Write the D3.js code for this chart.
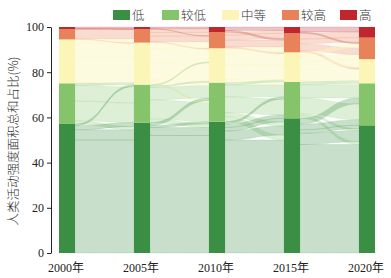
<!DOCTYPE html>
<html>
<head>
<meta charset="utf-8">
<script src="https://cdn.jsdelivr.net/npm/d3@7"></script>
<style>
  body { margin: 0; background: #fff; }
  svg { display: block; }
  .tick text { font-family: "Liberation Serif", serif; }
</style>
</head>
<body>
<svg id="chart" width="391" height="278"></svg>
<script>
// categories & years
const categories = ['低', '较低', '中等', '较高', '高'];
const colors = ['#3b8f45', '#86c46c', '#fbf6b8', '#e8825b', '#c0272d'];
const years = ['2000年', '2005年', '2010年', '2015年', '2020年'];
const yTicks = [0, 20, 40, 60, 80, 100];

// share of each category (%) per year, bottom to top
const v2000 = [57.1, 18.0, 19.4, 4.6, 0.9];
const v2005 = [57.7, 16.8, 18.6, 6.0, 0.9];
const v2010 = [58.1, 17.3, 15.2, 7.1, 2.3];
const v2015 = [59.6, 16.1, 13.1, 8.4, 2.8];
const v2020 = [56.5, 18.6, 10.7, 9.5, 4.7];
const shares = [v2000, v2005, v2010, v2015, v2020];

// transitions [from, to, value], listed in stacking order (bottom -> top)
const f2000_2005 = [[0,0,50.0],[0,0,4.5],[1,0,1.4],[0,0,1.8],[1,1,8.7],[1,1,7.0],[2,1,0.3],[0,1,0.8],[1,2,0.9],[2,2,11.1],[2,2,6.3],[3,2,0.3],[2,3,1.7],[3,3,4.1],[4,3,0.2],[3,4,0.2],[4,4,0.7]];
const f2005_2010 = [[0,0,52.0],[0,0,3.5],[1,0,1.6],[0,0,1.0],[1,1,8.5],[2,1,0.8],[0,1,1.2],[1,1,5.5],[2,1,1.3],[1,2,0.7],[2,2,8.0],[1,2,0.5],[2,2,5.6],[3,2,0.4],[2,3,2.9],[3,3,2.5],[4,3,0.1],[3,3,1.6],[3,4,1.5],[4,4,0.8]];
const f2010_2015 = [[0,0,50.0],[1,0,2.2],[0,0,4.0],[1,0,1.8],[0,0,1.6],[0,1,1.5],[1,1,7.0],[0,1,1.0],[1,1,5.3],[2,1,1.3],[1,2,1.0],[2,2,6.5],[2,2,5.0],[3,2,0.6],[2,3,2.4],[3,3,3.0],[4,3,0.8],[3,3,2.2],[3,4,1.3],[4,4,1.5]];
const f2015_2020 = [[0,0,48.0],[1,0,1.2],[0,0,5.0],[1,0,0.8],[0,0,1.5],[0,1,2.5],[1,1,7.0],[0,1,2.6],[1,1,5.9],[2,1,0.6],[1,2,1.2],[2,2,5.0],[3,2,0.8],[2,2,3.7],[2,3,2.0],[3,3,3.0],[2,3,1.8],[4,3,0.6],[3,3,2.1],[3,4,2.5],[4,4,2.2]];
const flows = [f2000_2005, f2005_2010, f2010_2015, f2015_2020];

const svg = d3.select('#chart');
const margin = { left: 51, top: 27, bottom: 25 };
const barW = 16;

const x = d3.scalePoint().domain(years).range([67, 367]);
const y = d3.scaleLinear().domain([0, 100]).range([253, 27]);

// cumulative base of every category in every year
const bases = shares.map(vals => {
  let acc = 0;
  return vals.map(v => { const b = acc; acc += v; return b; });
});

// ribbons between consecutive bars
const linkG = svg.append('g');
flows.forEach((list, i) => {
  const srcOff = bases[i].slice();
  const tgtOff = bases[i + 1].slice();
  const x0 = x(years[i]) + barW / 2;
  const x1 = x(years[i + 1]) - barW / 2;
  const xm = (x0 + x1) / 2;
  list.forEach(([s, t, v]) => {
    const s0 = y(srcOff[s]), s1 = y(srcOff[s] + v);
    const t0 = y(tgtOff[t]), t1 = y(tgtOff[t] + v);
    srcOff[s] += v;
    tgtOff[t] += v;
    const p = d3.path();
    p.moveTo(x0, s1);
    p.bezierCurveTo(xm, s1, xm, t1, x1, t1);
    p.lineTo(x1, t0);
    p.bezierCurveTo(xm, t0, xm, s0, x0, s0);
    p.closePath();
    linkG.append('path')
      .attr('d', p.toString())
      .attr('fill', colors[s])
      .attr('fill-opacity', s === 2 ? 0.45 : 0.28)
      .attr('stroke', colors[s])
      .attr('stroke-opacity', s === 2 ? 0.5 : 0.35)
      .attr('stroke-width', 0.4);
  });
});

// stacked bars
const barG = svg.append('g');
shares.forEach((vals, i) => {
  vals.forEach((v, c) => {
    barG.append('rect')
      .attr('x', x(years[i]) - barW / 2)
      .attr('y', y(bases[i][c] + v))
      .attr('width', barW)
      .attr('height', y(bases[i][c]) - y(bases[i][c] + v))
      .attr('fill', colors[c]);
  });
});

// y axis
const yAxis = svg.append('g')
  .attr('transform', `translate(${margin.left},0)`)
  .call(d3.axisLeft(y).tickValues(yTicks).tickSize(4).tickPadding(3).tickSizeOuter(0));
yAxis.selectAll('text').attr('font-size', 12).attr('fill', '#222');
yAxis.selectAll('line, path').attr('stroke', '#222');

// x labels
svg.append('g').selectAll('text')
  .data(years).enter().append('text')
  .attr('x', d => x(d) - 1)
  .attr('y', 272)
  .attr('text-anchor', 'middle')
  .attr('font-size', 12)
  .attr('fill', '#222')
  .style('font-family', '"Liberation Serif", "Noto Sans CJK SC", serif')
  .text(d => d);

// y title
svg.append('text')
  .attr('transform', 'translate(18,141) rotate(-90)')
  .attr('text-anchor', 'middle')
  .attr('font-size', 12.5)
  .attr('fill', '#333')
  .style('font-family', '"Noto Sans CJK SC", sans-serif')
  .style('font-weight', 300)
  .text('人类活动强度面积总和占比(%)');

// legend
const legendX = [113, 162, 222, 282, 340];
const legend = svg.append('g').selectAll('g')
  .data(categories).enter().append('g')
  .attr('transform', (d, i) => `translate(${legendX[i]},10)`);
legend.append('rect')
  .attr('width', 17).attr('height', 10)
  .attr('fill', (d, i) => colors[i]);
legend.append('text')
  .attr('x', 19).attr('y', 9.5)
  .attr('font-size', 12.5)
  .attr('fill', '#333')
  .style('font-family', '"Noto Sans CJK SC", sans-serif')
  .style('font-weight', 300)
  .text(d => d);
</script>
</body>
</html>
